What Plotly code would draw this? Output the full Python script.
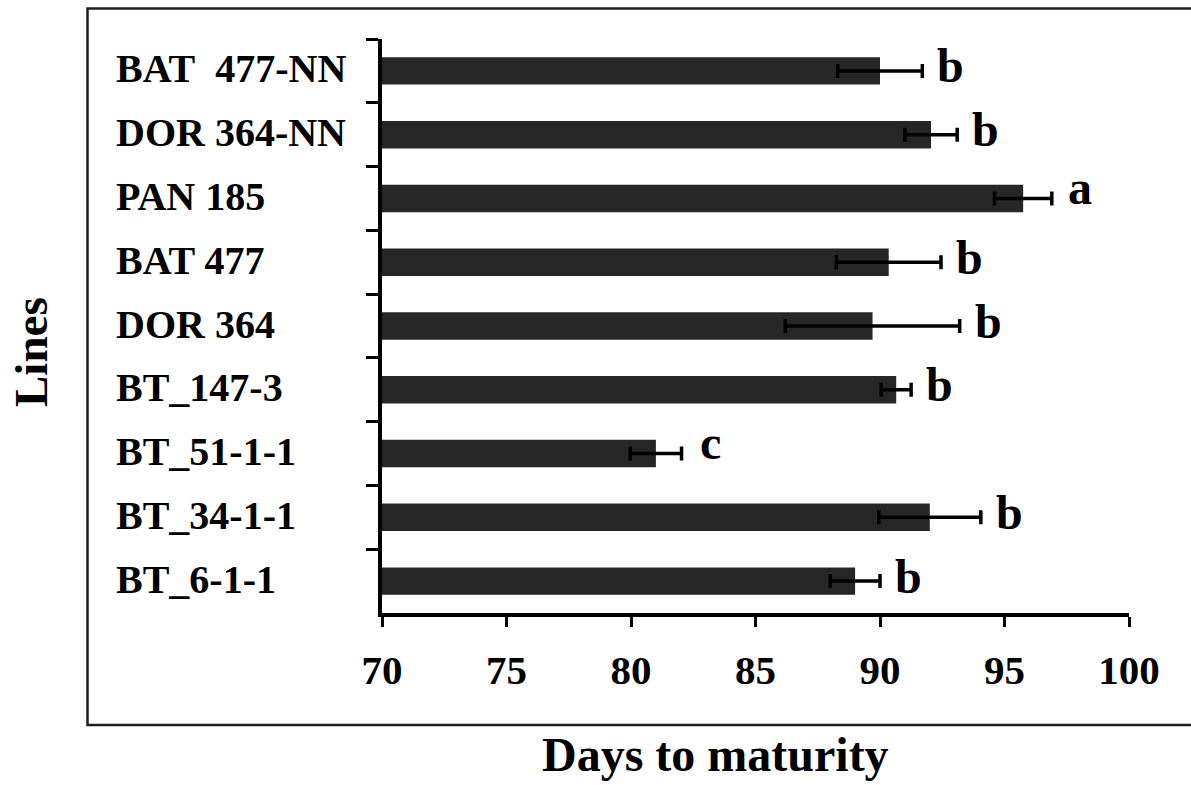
import plotly.graph_objects as go

# Data (top to bottom as shown)
lines = ["BAT\u00a0\u00a0477-NN", "DOR 364-NN", "PAN 185", "BAT 477", "DOR 364",
         "BT_147-3", "BT_51-1-1", "BT_34-1-1", "BT_6-1-1"]
days = [90.0, 92.05, 95.75, 90.35, 89.7, 90.65, 81.0, 92.0, 89.0]
errors = [1.7, 1.05, 1.15, 2.1, 3.5, 0.6, 1.03, 2.05, 1.0]
letters = ["b", "b", "a", "b", "b", "b", "c", "b", "b"]
x_ticks = [70, 75, 80, 85, 90, 95, 100]

FONT = "Times New Roman, Liberation Serif, serif"

W, H = 1191, 785
L, R, T, B = 382, 62, 39, 172
pw, ph = W - L - R, H - T - B


def px_to_paper_x(px):
    return (px - L) / pw


def px_to_paper_y(py):
    return (H - B - py) / ph


fig = go.Figure()
fig.add_trace(go.Bar(
    x=days, y=lines, orientation="h",
    marker=dict(color="#262626", line=dict(width=0)),
    width=0.43,
    error_x=dict(type="data", array=errors, visible=True,
                 color="black", thickness=3.5, width=7),
    showlegend=False, hoverinfo="x+y",
))

annotations = []
# category labels, left-aligned
for name in lines:
    annotations.append(dict(
        x=px_to_paper_x(114), xref="paper", y=name, yref="y",
        text=f"<b>{name}</b>", showarrow=False, xanchor="left", yanchor="middle",
        yshift=2,
        font=dict(family=FONT, size=40, color="black"),
    ))
# significance letters
for name, v, e, let in zip(lines, days, errors, letters):
    shift = 11 if let in ("a", "c") else 5
    annotations.append(dict(
        x=v + e + 1.15, xref="x", y=name, yref="y",
        text=f"<b>{let}</b>", showarrow=False, xanchor="center", yanchor="middle",
        yshift=shift,
        font=dict(family=FONT, size=48, color="black"),
    ))
# axis titles
annotations.append(dict(
    x=px_to_paper_x(715), xref="paper", y=px_to_paper_y(754), yref="paper",
    text="<b>Days to maturity</b>", showarrow=False, xanchor="center", yanchor="middle",
    font=dict(family=FONT, size=48, color="black"),
))
annotations.append(dict(
    x=px_to_paper_x(31), xref="paper", y=px_to_paper_y(352), yref="paper",
    text="<b>Lines</b>", showarrow=False, xanchor="center", yanchor="middle",
    textangle=-90,
    font=dict(family=FONT, size=47, color="black"),
))

fig.update_layout(
    width=W, height=H,
    margin=dict(l=L, r=R, t=T, b=B, pad=0),
    paper_bgcolor="white", plot_bgcolor="white",
    annotations=annotations,
    shapes=[dict(
        type="rect", xref="paper", yref="paper",
        x0=px_to_paper_x(87.5), x1=px_to_paper_x(1200),
        y0=px_to_paper_y(725), y1=px_to_paper_y(8.5),
        line=dict(color="#1e1e1e", width=2.5), layer="below",
    )],
    xaxis=dict(
        range=[70, 100], tickvals=x_ticks, ticktext=[f"<b>{t}</b>" for t in x_ticks],
        ticks="outside", ticklen=10, tickwidth=3, tickcolor="black",
        showline=True, linewidth=4, linecolor="black",
        showgrid=False, zeroline=False,
        tickfont=dict(family=FONT, size=41, color="black"),
        ticklabelstandoff=8,
    ),
    yaxis=dict(
        type="category", categoryorder="array", categoryarray=lines,
        range=[8.5, -0.5],
        ticks="outside", tickson="boundaries", ticklen=12, tickwidth=3, tickcolor="black",
        showline=True, linewidth=4, linecolor="black",
        showgrid=False, zeroline=False, showticklabels=False,
    ),
)

fig.write_html("out.html")
